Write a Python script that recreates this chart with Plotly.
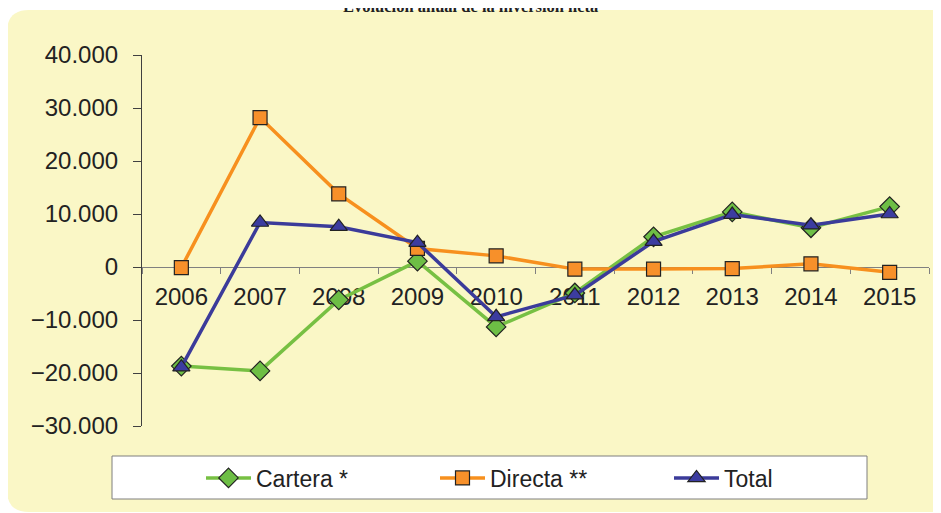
import plotly.graph_objects as go

years = ['2006', '2007', '2008', '2009', '2010', '2011', '2012', '2013', '2014', '2015']
cartera = [-18700, -19600, -6200, 1100, -11300, -4900, 5700, 10400, 7400, 11400]
directa = [-100, 28200, 13800, 3500, 2100, -400, -400, -300, 600, -1000]
total = [-18900, 8400, 7600, 4600, -9400, -5300, 4800, 9900, 7900, 10000]

W, H = 941, 513
OFF = 8  # the page has a body margin, so the figure starts 8px in
ML, MR, MT, MB = 134, 20, 47, 95
PW, PH = W - ML - MR, H - MT - MB


# helpers: screen pixel -> paper coords
def px_x(p):
	return (p - OFF - ML) / PW


def px_y(p):
	return (H - MB - (p - OFF)) / PH


font = 'Liberation Sans, Arial, sans-serif'

fig = go.Figure()
fig.add_trace(go.Scatter(
	x=years, y=cartera, name='Cartera *', mode='lines+markers',
	line=dict(color='#77C043', width=3.5),
	marker=dict(symbol='diamond', size=15, color='#6DBE45', line=dict(color='#222222', width=1.2)),
))
fig.add_trace(go.Scatter(
	x=years, y=directa, name='Directa **', mode='lines+markers',
	line=dict(color='#F7901E', width=3.5),
	marker=dict(symbol='square', size=14, color='#F7902A', line=dict(color='#222222', width=1.2)),
))
fig.add_trace(go.Scatter(
	x=years, y=total, name='Total', mode='lines+markers',
	line=dict(color='#3B3B9A', width=3.5),
	marker=dict(symbol='triangle-up', size=15, color='#3C3CA0', line=dict(color='#222222', width=1.2)),
))

# rounded yellow panel
x0, x1 = px_x(7), px_x(960)
y0, y1 = px_y(10), px_y(512)
rx, ry = 22 / PW, 22 / PH
path = (f'M {x0 + rx} {y0} L {x1} {y0} L {x1} {y1} L {x0 + rx} {y1} '
		f'Q {x0} {y1} {x0} {y1 + ry} L {x0} {y0 - ry} Q {x0} {y0} {x0 + rx} {y0} Z')
fig.add_shape(type='path', path=path, xref='paper', yref='paper', layer='below',
			  fillcolor='#FAF7C6', line=dict(width=0))
# legend box
fig.add_shape(type='rect', xref='paper', yref='paper', layer='below',
			  x0=px_x(112), x1=px_x(867), y0=px_y(456), y1=px_y(499),
			  fillcolor='white', line=dict(color='#7F7F7F', width=1))

# title, cut at the top edge like the original
fig.add_annotation(text='<b>Evolución anual de la inversión neta</b>', xref='paper', yref='paper',
				   x=px_x(470), y=px_y(7), xanchor='center', yanchor='middle', showarrow=False,
				   font=dict(family='Liberation Serif, Times New Roman, serif', size=16.5, color='#222222'))

fig.update_layout(
	width=W, height=H,
	margin=dict(l=ML, r=MR, t=MT, b=MB, autoexpand=False),
	paper_bgcolor='white', plot_bgcolor='rgba(0,0,0,0)',
	separators=',.',
	font=dict(family=font, size=24, color='#222222'),
	showlegend=True,
	legend=dict(orientation='h', x=px_x(201), xanchor='left', y=px_y(478), yanchor='middle',
				bgcolor='rgba(0,0,0,0)', itemwidth=45, entrywidth=174, entrywidthmode='pixels',
				font=dict(size=23, family=font)),
)
fig.update_xaxes(
	type='category', range=[-0.5, 9.5], anchor='free', position=30000 / 70000,
	showline=True, linecolor='#808080', linewidth=1.2, showgrid=False, automargin=False,
	ticks='outside', tickson='boundaries', ticklen=6, tickcolor='#808080', ticklabelstandoff=8,
	layer='below traces', tickfont=dict(size=24),
)
fig.update_yaxes(
	range=[-30000, 40000], dtick=10000, tickformat=',d', automargin=False,
	showline=True, linecolor='#404040', linewidth=1.2, showgrid=False, zeroline=False,
	ticks='outside', ticklen=8, tickcolor='#404040', ticklabelstandoff=10,
	tickfont=dict(size=24),
)

fig.write_html('out.html')
